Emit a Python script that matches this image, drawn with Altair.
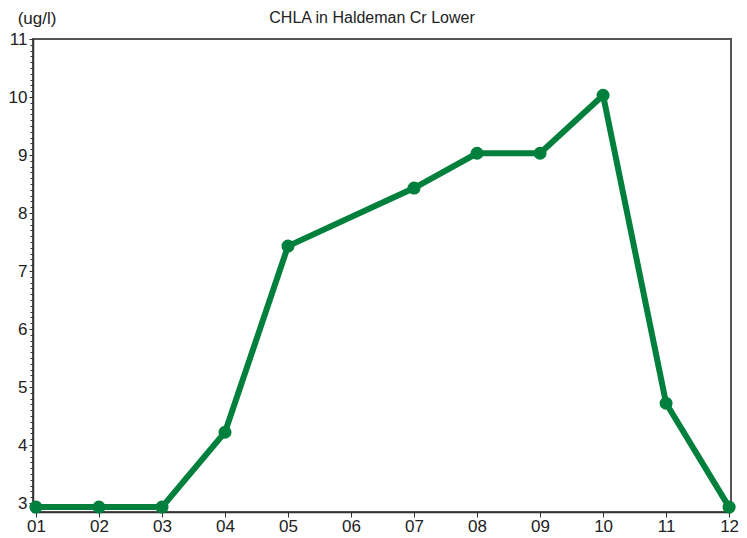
import altair as alt
import pandas as pd

months = [1, 2, 3, 4, 5, 7, 8, 9, 10, 11, 12]
chla = [2.93, 2.93, 2.93, 4.22, 7.43, 8.43, 9.03, 9.03, 10.03, 4.72, 2.93]
month_ticks = list(range(1, 13))
y_ticks = [round(2.9 + i * 0.1, 1) for i in range(82)]
title_text = "CHLA in Haldeman Cr Lower"
unit_text = "(ug/l)"

df = pd.DataFrame({"month": months, "chla": chla})

GREEN = "#00803C"
FONT = "Liberation Sans"

x = alt.X(
    "month:Q",
    scale=alt.Scale(domain=[0.953, 12.03], nice=False, zero=False),
    axis=alt.Axis(
        values=month_ticks,
        labelExpr="datum.value < 10 ? '0' + datum.value : '' + datum.value",
        title=None, grid=False, tickSize=5, labelPadding=1,
        labelFontSize=17, labelFont=FONT, labelColor="#222",
        domainColor="#333", tickColor="#333", domainWidth=1.5,
        labelFlush=False, labelOverlap=False,
    ),
)
y = alt.Y(
    "chla:Q",
    scale=alt.Scale(domain=[2.845, 11], nice=False, zero=False),
    axis=alt.Axis(
        values=y_ticks,
        labelExpr="abs(datum.value - round(datum.value)) < 0.001 ? format(datum.value, 'd') : ''",
        title=None, grid=False,
        tickSize={"condition": {"test": "abs(datum.value - round(datum.value)) < 0.001", "value": 4}, "value": 3},
        labelPadding=2, labelFontSize=17, labelFont=FONT, labelColor="#222",
        domainColor="#333", tickColor="#333", domainWidth=1.5,
        labelOverlap=False, labelFlush=False, labelBaseline="middle",
    ),
)

base = alt.Chart(df).encode(x=x, y=y)
line = base.mark_line(color=GREEN, strokeWidth=6, clip=False)
pts = base.mark_circle(color=GREEN, size=170, opacity=1, clip=False)

title = alt.Chart(pd.DataFrame({"t": [title_text]})).mark_text(
    fontSize=16, font=FONT, color="#222", baseline="alphabetic", align="center"
).encode(x=alt.value(339), y=alt.value(-16), text="t:N")

unit = alt.Chart(pd.DataFrame({"t": [unit_text]})).mark_text(
    fontSize=17, font=FONT, color="#222", baseline="middle", align="center"
).encode(x=alt.value(4), y=alt.value(-20), text="t:N")

chart = alt.layer(line, pts, title, unit).properties(
    width=698, height=473,
    autosize=alt.AutoSizeParams(type="none"),
    padding={"left": 25, "top": 31, "right": 8, "bottom": 24},
).configure_view(stroke="#555555", strokeWidth=2)

chart.save("out.html", embed_options={"renderer": "svg", "actions": False})
